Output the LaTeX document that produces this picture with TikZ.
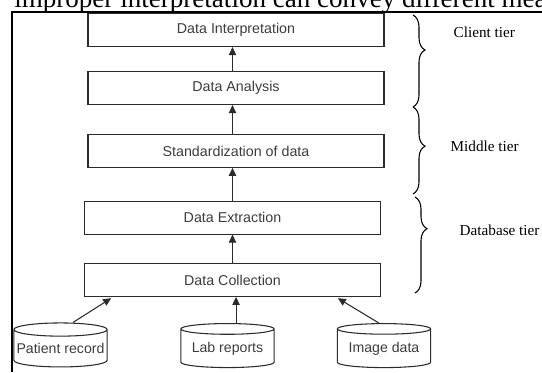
\documentclass[tikz,border=0pt]{standalone}
\usepackage{fontspec}
\setmainfont{Liberation Serif}
\setsansfont{Liberation Sans}
\usetikzlibrary{arrows.meta,positioning,shapes.geometric,decorations.pathreplacing}
\definecolor{ink}{HTML}{2B2B2B}
\definecolor{label}{HTML}{3C3C3C}
\tikzset{
  box/.style={draw=ink, line width=0.8pt, minimum width=222pt, minimum height=24.5pt, inner sep=0pt, font=\sffamily\fontsize{10.7}{12}\selectfont, text=label},
  store/.style={cylinder, shape border rotate=90, draw=ink, line width=0.8pt, aspect=0.15, minimum width=70pt, minimum height=33pt, inner sep=0pt, font=\sffamily\fontsize{10.6}{12}\selectfont, text=label},
  arrow/.style={-{Triangle[length=6pt,width=5.5pt]}, line width=0.8pt, draw=ink},
  tier/.style={decorate, decoration={brace, amplitude=9pt, aspect=#1}, line width=0.8pt},
  tierlabel/.style={anchor=west, font=\fontsize{11.4}{13}\selectfont, text=black}
}
\begin{document}
\begin{tikzpicture}[x=0.75pt, y=-0.75pt]
\useasboundingbox (0,0) rectangle (542,372);
% cut line of text above the figure
\begin{scope}
\clip (0,0) rectangle (542,11.2);
\node[anchor=base west, inner sep=0pt, font=\fontsize{20.3}{24}\selectfont] (intro) at (14,7.3) {improper interpretation can convey different meanings};
\end{scope}
\draw[line width=1.2pt] (542,12) -| (12,372);
% processing stack
\node[box] (di) at (236,30.2) {Data Interpretation};
\node[box] (da) at (236,88.2) {Data Analysis};
\node[box] (sd) at (236,151) {Standardization of data};
\node[box] (de) at (232.5,217.7) {Data Extraction};
\node[box] (dc) at (232.5,280) {Data Collection};
% sources
\node[store] (pr) at (60.5,348.5) {Patient record};
\node[store] (lr) at (227.5,348.5) {Lab reports};
\node[store] (id) at (384,348.5) {Image data};
\draw[arrow] (dc.north) -- (dc.north |- de.south);
\draw[arrow] (de.north) -- (de.north |- sd.south);
\draw[arrow] (sd.north -| dc) -- (da.south -| dc);
\draw[arrow] (da.north -| dc) -- (di.south -| dc);
\draw[arrow] ([xshift=9.4pt]pr.north) -- ([xshift=-91pt,yshift=-1pt]dc.south);
\draw[arrow] ([xshift=6.4pt]lr.north) -- ([xshift=6.4pt]lr.north |- dc.south);
\draw[arrow] ([xshift=-3.8pt]id.north) -- ([xshift=79pt,yshift=-1pt]dc.south);
% tiers
\draw[tier=0.38] (413,15) -- (413,107);
\draw[tier=0.45] (413,107) -- (413,194);
\draw[tier=0.33] (415,197) -- (415,293);
\node[tierlabel] (client) at (449,32) {Client tier};
\node[tierlabel] (middle) at (446,146) {Middle tier};
\node[tierlabel] (dbase) at (455,230) {Database tier};
\end{tikzpicture}
\end{document}
